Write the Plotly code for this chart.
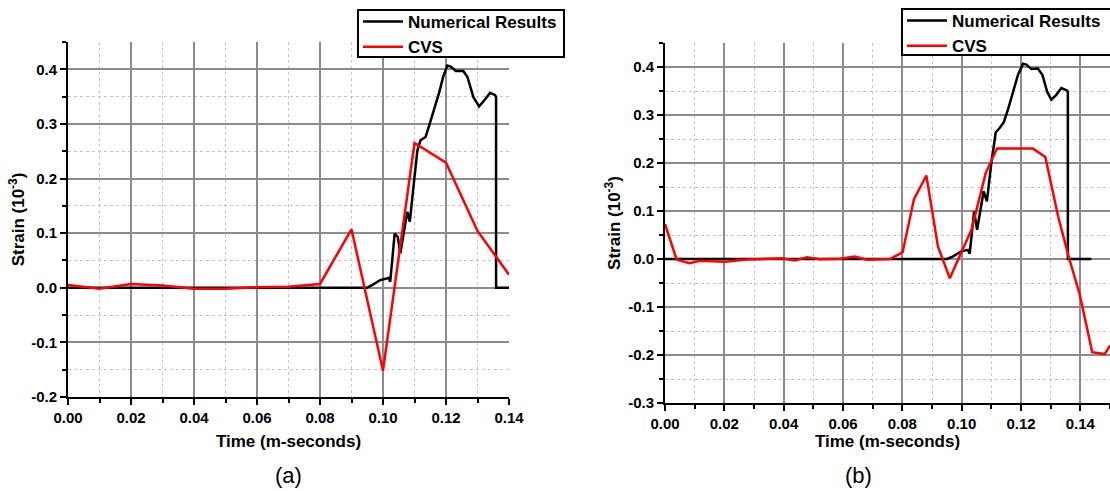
import plotly.graph_objects as go

# ---------------- data ----------------
# (a)
a_num_t = [0, 0.0949, 0.0965, 0.0991, 0.1018, 0.1023, 0.1037, 0.1047, 0.1055, 0.1077, 0.1085,
           0.1098, 0.1109, 0.1119, 0.1135, 0.1146, 0.1162, 0.1178, 0.1191, 0.1204, 0.1215, 0.1231,
           0.1255, 0.1268, 0.1287, 0.1305, 0.1321, 0.1340, 0.1355, 0.1359, 0.1359, 0.14]
a_num_v = [0, 0, 0.005, 0.014, 0.018, 0.011, 0.099, 0.093, 0.063, 0.139, 0.121,
           0.197, 0.251, 0.270, 0.276, 0.296, 0.326, 0.357, 0.386, 0.407, 0.405, 0.397,
           0.397, 0.386, 0.349, 0.332, 0.343, 0.357, 0.353, 0.350, 0, 0]
a_cvs_t = [0, 0.01, 0.02, 0.03, 0.04, 0.05, 0.06, 0.07, 0.08, 0.09, 0.10, 0.11, 0.12, 0.13, 0.14]
a_cvs_v = [0.005, -0.002, 0.007, 0.004, -0.002, -0.002, 0.001, 0.002, 0.007, 0.107, -0.152,
           0.265, 0.229, 0.104, 0.024]

# (b)
b_num_t = [0, 0.0951, 0.0971, 0.0999, 0.1021, 0.1027, 0.1042, 0.1052, 0.1074, 0.1085, 0.1100,
           0.1115, 0.1128, 0.1142, 0.1156, 0.1173, 0.1190, 0.1207, 0.1218, 0.1235, 0.1257, 0.1272,
           0.1288, 0.1302, 0.1319, 0.1336, 0.1355, 0.1358, 0.1358, 0.1437]
b_num_v = [0, 0, 0.0056, 0.016, 0.019, 0.011, 0.099, 0.061, 0.141, 0.120, 0.200,
           0.264, 0.273, 0.285, 0.311, 0.346, 0.384, 0.407, 0.405, 0.396, 0.397, 0.384,
           0.349, 0.332, 0.342, 0.356, 0.351, 0.348, 0, 0]
b_cvs_t = [0, 0.0039, 0.0082, 0.0118, 0.0202, 0.0275, 0.0393, 0.0438, 0.0478, 0.0522, 0.059,
           0.064, 0.068, 0.0758, 0.0801, 0.0839, 0.0881, 0.0920, 0.0960, 0.1033, 0.1081, 0.1119,
           0.1240, 0.1282, 0.1325, 0.1362, 0.1398, 0.1440, 0.1482, 0.15]
b_cvs_v = [0.073, -0.001, -0.009, -0.0035, -0.0056, -0.001, 0.0014, -0.003, 0.0035, -0.0007, 0.0007,
           0.005, -0.0014, 0, 0.014, 0.124, 0.174, 0.026, -0.040, 0.061, 0.179, 0.230,
           0.230, 0.2125, 0.089, 0.002, -0.074, -0.194, -0.198, -0.18]

x_ticks = [0, 0.02, 0.04, 0.06, 0.08, 0.10, 0.12, 0.14]
x_labels = ["0.00", "0.02", "0.04", "0.06", "0.08", "0.10", "0.12", "0.14"]
ya_ticks = [-0.2, -0.1, 0.0, 0.1, 0.2, 0.3, 0.4]
ya_labels = ["-0.2", "-0.1", "0.0", "0.1", "0.2", "0.3", "0.4"]
yb_ticks = [-0.3, -0.2, -0.1, 0.0, 0.1, 0.2, 0.3, 0.4]
yb_labels = ["-0.3", "-0.2", "-0.1", "0.0", "0.1", "0.2", "0.3", "0.4"]

series_names = ["Numerical Results", "CVS"]
panel_labels = ["(a)", "(b)"]
x_title = "Time (m-seconds)"
y_title = "Strain (10<sup>-3</sup>)"

# ---------------- figure ----------------
FONT = "Liberation Sans, Arial, sans-serif"
W, H = 1110, 491
fig = go.Figure()

fig.add_trace(go.Scatter(x=a_num_t, y=a_num_v, mode="lines", name=series_names[0],
                         line=dict(color="black", width=2.5), xaxis="x", yaxis="y", legend="legend"))
fig.add_trace(go.Scatter(x=a_cvs_t, y=a_cvs_v, mode="lines", name=series_names[1],
                         line=dict(color="#ff0000", width=2.5), xaxis="x", yaxis="y", legend="legend"))
fig.add_trace(go.Scatter(x=b_num_t, y=b_num_v, mode="lines", name=series_names[0],
                         line=dict(color="black", width=2.5), xaxis="x2", yaxis="y2", legend="legend2"))
fig.add_trace(go.Scatter(x=b_cvs_t, y=b_cvs_v, mode="lines", name=series_names[1],
                         line=dict(color="#ff0000", width=2.5), xaxis="x2", yaxis="y2", legend="legend2"))

tickfont = dict(family=FONT, size=15, color="black", weight="bold")
titlefont = dict(family=FONT, size=17, color="black", weight="bold")


def axis_style(minor_dtick):
    return dict(
        showline=True, linecolor="black", linewidth=2,
        ticks="outside", ticklen=6, tickwidth=2, tickcolor="black",
        showgrid=True, gridcolor="#8c8c8c", gridwidth=1.5, zeroline=False,
        tickfont=tickfont,
        minor=dict(dtick=minor_dtick, ticks="outside", ticklen=4, tickwidth=2, tickcolor="black",
                   showgrid=True, gridcolor="#c4c4c4", griddash="dot", gridwidth=1),
    )


legend_font = dict(family=FONT, size=17, color="black", weight="bold")


def legend_style(x_px, y_px):
    return dict(x=x_px / W, y=1 - y_px / H, xanchor="left", yanchor="top",
                bgcolor="rgba(0,0,0,0)", borderwidth=0, font=legend_font,
                tracegroupgap=0, itemwidth=40)


def legend_box(x0, y0, x1, y1):
    return dict(type="rect", xref="paper", yref="paper", layer="above",
                x0=x0 / W, x1=x1 / W, y0=1 - y1 / H, y1=1 - y0 / H,
                fillcolor="white", line=dict(color="black", width=2))


fig.update_layout(
    width=W, height=H,
    margin=dict(l=0, r=0, t=0, b=0, autoexpand=False),
    paper_bgcolor="white", plot_bgcolor="white",
    xaxis=dict(domain=[68 / W, 509 / W], range=[0, 0.14], anchor="y",
               tickvals=x_ticks, ticktext=x_labels,
               title=dict(text=x_title, font=titlefont, standoff=10), **axis_style(0.01)),
    yaxis=dict(domain=[1 - 397 / H, 1 - 42 / H], range=[-0.2, 0.45], anchor="x",
               tickvals=ya_ticks, ticktext=ya_labels,
               title=dict(text=y_title, font=titlefont, standoff=2), **axis_style(0.05)),
    xaxis2=dict(domain=[665 / W, 1.0], range=[0, 0.15], anchor="y2",
                tickvals=x_ticks, ticktext=x_labels,
                title=dict(text=x_title, font=titlefont, standoff=3), **axis_style(0.01)),
    yaxis2=dict(domain=[1 - 403 / H, 1 - 43 / H], range=[-0.3, 0.45], anchor="x2",
                tickvals=yb_ticks, ticktext=yb_labels,
                title=dict(text=y_title, font=titlefont, standoff=3), **axis_style(0.05)),
    legend=legend_style(358, 4),
    legend2=legend_style(902, 3),
    shapes=[legend_box(358, 10, 564, 57), legend_box(902, 9, 1120, 55)],
    annotations=[
        dict(text=panel_labels[0], x=288 / W, y=1 - 475 / H, xref="paper", yref="paper",
             showarrow=False, xanchor="center", yanchor="middle",
             font=dict(family=FONT, size=22, color="black")),
        dict(text=panel_labels[1], x=858 / W, y=1 - 475 / H, xref="paper", yref="paper",
             showarrow=False, xanchor="center", yanchor="middle",
             font=dict(family=FONT, size=22, color="black")),
    ],
)

fig.write_html("out.html", config={"displayModeBar": False},
               post_script="document.body.style.margin='0';document.body.style.overflow='hidden';")
